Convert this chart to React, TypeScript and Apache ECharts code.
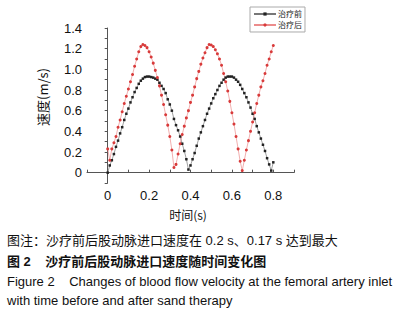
import React, { useEffect, useRef } from "react";
import * as echarts from "echarts";

const timeS = [
  0, 0.01, 0.02, 0.03, 0.04, 0.05, 0.06, 0.07, 0.08, 0.09,
  0.1, 0.11, 0.12, 0.13, 0.14, 0.15, 0.16, 0.17, 0.18, 0.19,
  0.2, 0.21, 0.22, 0.23, 0.24, 0.25, 0.26, 0.27, 0.28, 0.29,
  0.3, 0.31, 0.32, 0.33, 0.34, 0.35, 0.36, 0.37, 0.38, 0.39,
  0.4, 0.41, 0.42, 0.43, 0.44, 0.45, 0.46, 0.47, 0.48, 0.49,
  0.5, 0.51, 0.52, 0.53, 0.54, 0.55, 0.56, 0.57, 0.58, 0.59,
  0.6, 0.61, 0.62, 0.63, 0.64, 0.65, 0.66, 0.67, 0.68, 0.69,
  0.7, 0.71, 0.72, 0.73, 0.74, 0.75, 0.76, 0.77, 0.78, 0.79,
  0.8,
];

const before = [
  0, 0.07, 0.12, 0.18, 0.25, 0.31, 0.38, 0.44, 0.51, 0.57,
  0.62, 0.68, 0.73, 0.78, 0.82, 0.86, 0.89, 0.91, 0.925, 0.93,
  0.93, 0.925, 0.92, 0.91, 0.9, 0.87, 0.84, 0.81, 0.77, 0.71,
  0.66, 0.6, 0.52, 0.46, 0.41, 0.35, 0.28, 0.21, 0.13, 0.03,
  0.07, 0.13, 0.19, 0.26, 0.33, 0.39, 0.45, 0.51, 0.57, 0.62,
  0.67, 0.72, 0.76, 0.8, 0.84, 0.87, 0.9, 0.92, 0.93, 0.93,
  0.93, 0.92, 0.9, 0.88, 0.85, 0.81, 0.77, 0.73, 0.68, 0.63,
  0.57, 0.52, 0.45, 0.39, 0.33, 0.27, 0.21, 0.14, 0.08, 0.02,
  0.1,
];

const after = [
  0.23, 0.12, 0.23, 0.29, 0.35, 0.44, 0.51, 0.59, 0.67, 0.74,
  0.81, 0.88, 0.95, 1.03, 1.1, 1.17, 1.22, 1.24, 1.23, 1.21,
  1.17, 1.12, 1.06, 0.99, 0.92, 0.84, 0.75, 0.66, 0.56, 0.46,
  0.35, 0.22, 0.05, 0.08, 0.18, 0.28, 0.37, 0.45, 0.53, 0.6,
  0.68, 0.75, 0.83, 0.91, 0.98, 1.05, 1.11, 1.16, 1.21, 1.24,
  1.235, 1.22, 1.19, 1.15, 1.1, 1.04, 0.96, 0.88, 0.79, 0.69,
  0.58, 0.47, 0.35, 0.23, 0.11, 0.02, 0.12, 0.22, 0.31, 0.4,
  0.49, 0.58, 0.67, 0.75, 0.83, 0.89, 0.96, 1.04, 1.1, 1.17,
  1.23,
];

const seriesNames = ["治疗前", "治疗后"];
const xLabels = ["0", "0.2", "0.4", "0.6", "0.8"];
const yLabels = ["0", "0.2", "0.4", "0.6", "0.8", "1.0", "1.2", "1.4"];

const xTitle = "时间(s)";
const yTitle = "速度(m/s)";
const captionLines = [
  "图注：沙疗前后股动脉进口速度在 0.2 s、0.17 s 达到最大",
  "图 2    沙疗前后股动脉进口速度随时间变化图",
  "Figure 2    Changes of blood flow velocity at the femoral artery inlet",
  "with time before and after sand therapy",
];

const FONT = "'Liberation Sans', Arial, 'Noto Sans CJK SC', sans-serif";

export default function App() {
  const ref = useRef<HTMLDivElement>(null);
  useEffect(() => {
    if (!ref.current) return;
    const chart = echarts.init(ref.current, null, { renderer: "svg" });
    const fmtX = (v: number) => {
      const s = (Math.round(v * 10) / 10).toString();
      return xLabels.includes(s) ? s : "";
    };
    const fmtY = (v: number) => {
      const r = Math.round(v * 10) / 10;
      const s = r === 0 ? "0" : r.toFixed(1);
      return yLabels.includes(s) ? s : "";
    };
    chart.setOption({
      animation: false,
      backgroundColor: "#ffffff",
      textStyle: { fontFamily: FONT },
      grid: { left: 87, right: 119, top: 28, bottom: 129, containLabel: false },
      legend: {
        left: 250,
        top: 7,
        orient: "vertical",
        data: seriesNames,
        itemWidth: 22,
        itemHeight: 4,
        itemGap: 3,
        padding: [3, 3, 3, 3],
        borderColor: "#aaaaaa",
        borderWidth: 1,
        backgroundColor: "#ffffff",
        textStyle: { fontSize: 8, color: "#222", fontFamily: "'Noto Sans CJK SC', sans-serif", padding: [0, 0, 0, -3] },
      },
      xAxis: {
        type: "value",
        min: -0.1,
        max: 0.9,
        interval: 0.1,
        axisLine: { lineStyle: { color: "#555", width: 1 } },
        axisTick: { inside: true, length: 3, lineStyle: { color: "#555" } },
        splitLine: { show: false },
        axisLabel: {
          formatter: fmtX,
          fontSize: 13,
          color: "#111",
          margin: 6,
          fontFamily: FONT,
          showMinLabel: true,
          showMaxLabel: true,
        },
      },
      yAxis: {
        type: "value",
        min: -0.1,
        max: 1.4,
        interval: 0.1,
        axisLine: { show: true, lineStyle: { color: "#555", width: 1 } },
        axisTick: { show: true, inside: false, length: 3, lineStyle: { color: "#555" } },
        splitLine: { show: false },
        axisLabel: {
          formatter: fmtY,
          fontSize: 13,
          color: "#111",
          margin: 5,
          fontFamily: FONT,
        },
      },
      series: [
        {
          name: seriesNames[0],
          type: "line",
          data: timeS.map((t, i) => [t, before[i]]),
          symbol: "rect",
          symbolSize: 2.5,
          showSymbol: true,
          lineStyle: { color: "#777", width: 0.7 },
          itemStyle: { color: "#222" },
        },
        {
          name: seriesNames[1],
          type: "line",
          data: timeS.map((t, i) => [t, after[i]]),
          symbol: "circle",
          symbolSize: 3,
          showSymbol: true,
          lineStyle: { color: "#ec8c8c", width: 0.7 },
          itemStyle: { color: "#d83a3a" },
        },
      ],
      graphic: [
        {
          type: "text",
          x: 188,
          y: 214,
          style: {
            text: xTitle,
            fontSize: 12,
            fontFamily: "'Noto Sans CJK SC', sans-serif",
            fill: "#111",
            align: "center",
            verticalAlign: "middle",
          },
        },
        {
          type: "text",
          x: 42,
          y: 97,
          rotation: Math.PI / 2,
          style: {
            text: yTitle,
            fontSize: 13,
            fontFamily: "'Noto Sans CJK SC', sans-serif",
            fill: "#111",
            align: "center",
            verticalAlign: "middle",
          },
        },
        ...captionLines.map((line, i) => ({
          type: "text",
          x: 7,
          y: [240, 261, 281, 300][i],
          style: {
            text: line,
            fontSize: 13,
            fontWeight: i === 1 ? "bold" : "normal",
            fontFamily: i >= 2 ? "'Liberation Sans', Arial, sans-serif" : "'Liberation Sans', 'Noto Sans CJK SC', sans-serif",
            fill: "#111",
            align: "left",
            verticalAlign: "middle",
          },
        })),
      ],
    });
    return () => chart.dispose();
  }, []);
  return (
    <div
      ref={ref}
      style={{ position: "absolute", left: 0, top: 0, width: 413, height: 312 }}
    />
  );
}
